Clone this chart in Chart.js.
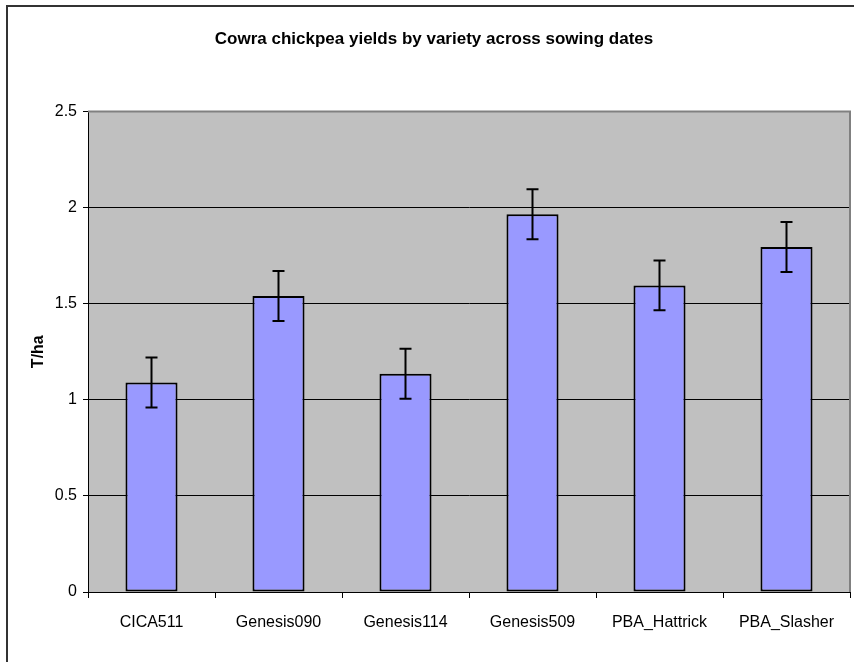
<!DOCTYPE html>
<html>
<head>
<meta charset="utf-8">
<script src="https://cdn.jsdelivr.net/npm/chart.js@4/dist/chart.umd.min.js"></script>
<style>
  html, body { margin: 0; padding: 0; background: #fff; }
  #wrap { position: relative; width: 854px; height: 662px; overflow: hidden; }
  #frame { position: absolute; left: 6px; top: 5px; width: 900px; height: 700px;
           border-left: 2px solid #333; border-top: 2px solid #333; }
  #c { position: absolute; left: 0; top: 0; }
</style>
</head>
<body>
<div id="wrap">
  <div id="frame"></div>
  <canvas id="c" width="854" height="662"></canvas>
</div>
<script>
const categories = ['CICA511', 'Genesis090', 'Genesis114', 'Genesis509', 'PBA_Hattrick', 'PBA_Slasher'];
const yields = [1.09, 1.54, 1.135, 1.965, 1.595, 1.795];
const errors = [0.13, 0.13, 0.13, 0.13, 0.13, 0.13];
const yTicks = [0, 0.5, 1, 1.5, 2, 2.5];

const plotBg = {
  id: 'plotBg',
  beforeDraw(chart) {
    const {ctx, chartArea: a} = chart;
    ctx.save();
    ctx.fillStyle = '#C0C0C0';
    ctx.fillRect(a.left, a.top, a.right - a.left, a.bottom - a.top);
    ctx.restore();
  },
  afterDatasetsDraw(chart) {
    const {ctx, chartArea: a} = chart;
    ctx.save();
    ctx.strokeStyle = '#808080';
    ctx.lineWidth = 2;
    ctx.beginPath();
    ctx.moveTo(a.left, a.top);
    ctx.lineTo(a.right, a.top);
    ctx.lineTo(a.right, a.bottom);
    ctx.stroke();
    ctx.restore();
  }
};

const errorBars = {
  id: 'errorBars',
  afterDatasetsDraw(chart) {
    const {ctx} = chart;
    const meta = chart.getDatasetMeta(0);
    const y = chart.scales.y;
    ctx.save();
    ctx.strokeStyle = '#000';
    ctx.lineWidth = 2;
    meta.data.forEach((bar, i) => {
      const x = bar.x;
      const yHi = y.getPixelForValue(yields[i] + errors[i]);
      const yLo = y.getPixelForValue(yields[i] - errors[i]);
      ctx.beginPath();
      ctx.moveTo(x, yHi); ctx.lineTo(x, yLo);
      ctx.moveTo(x - 6, yHi); ctx.lineTo(x + 6, yHi);
      ctx.moveTo(x - 6, yLo); ctx.lineTo(x + 6, yLo);
      ctx.stroke();
    });
    ctx.restore();
  }
};

new Chart(document.getElementById('c'), {
  type: 'bar',
  data: {
    labels: categories,
    datasets: [{
      data: yields,
      backgroundColor: '#9999FF',
      borderColor: '#000',
      borderWidth: 2,
      borderSkipped: false,
      categoryPercentage: 1,
      barPercentage: 0.41
    }]
  },
  options: {
    responsive: false,
    animation: false,
    layout: { padding: { left: 18, right: 4, top: 0, bottom: 0 } },
    plugins: {
      legend: { display: false },
      tooltip: { enabled: false },
      title: {
        display: true,
        text: 'Cowra chickpea yields by variety across sowing dates',
        color: '#000',
        font: { family: 'Liberation Sans, Arial, sans-serif', size: 17, weight: 'bold' },
        padding: { top: 29, bottom: 62 }
      }
    },
    scales: {
      x: {
        afterFit(s) { s.height = 70; },
        grid: { offset: true, drawOnChartArea: false, drawTicks: true, tickLength: 6, tickColor: '#000', tickWidth: 1 },
        border: { display: true, color: '#000', width: 1 },
        ticks: { color: '#000', padding: 15, font: { family: 'Liberation Sans, Arial, sans-serif', size: 16 } }
      },
      y: {
        min: 0, max: 2.5,
        afterFit(s) { s.width = 70; },
        afterBuildTicks(s) { s.ticks = yTicks.map(v => ({ value: v })); },
        grid: { color: '#000', lineWidth: 1, tickLength: 5, tickColor: '#000' },
        border: { display: true, color: '#000', width: 1 },
        ticks: {
          color: '#000', padding: 6,
          font: { family: 'Liberation Sans, Arial, sans-serif', size: 16 },
          callback: v => String(v)
        },
        title: {
          display: true, text: 'T/ha', color: '#000',
          font: { family: 'Liberation Sans, Arial, sans-serif', size: 16, weight: 'bold' },
          padding: { top: 11, bottom: 0 }
        }
      }
    }
  },
  plugins: [plotBg, errorBars]
});
</script>
</body>
</html>
